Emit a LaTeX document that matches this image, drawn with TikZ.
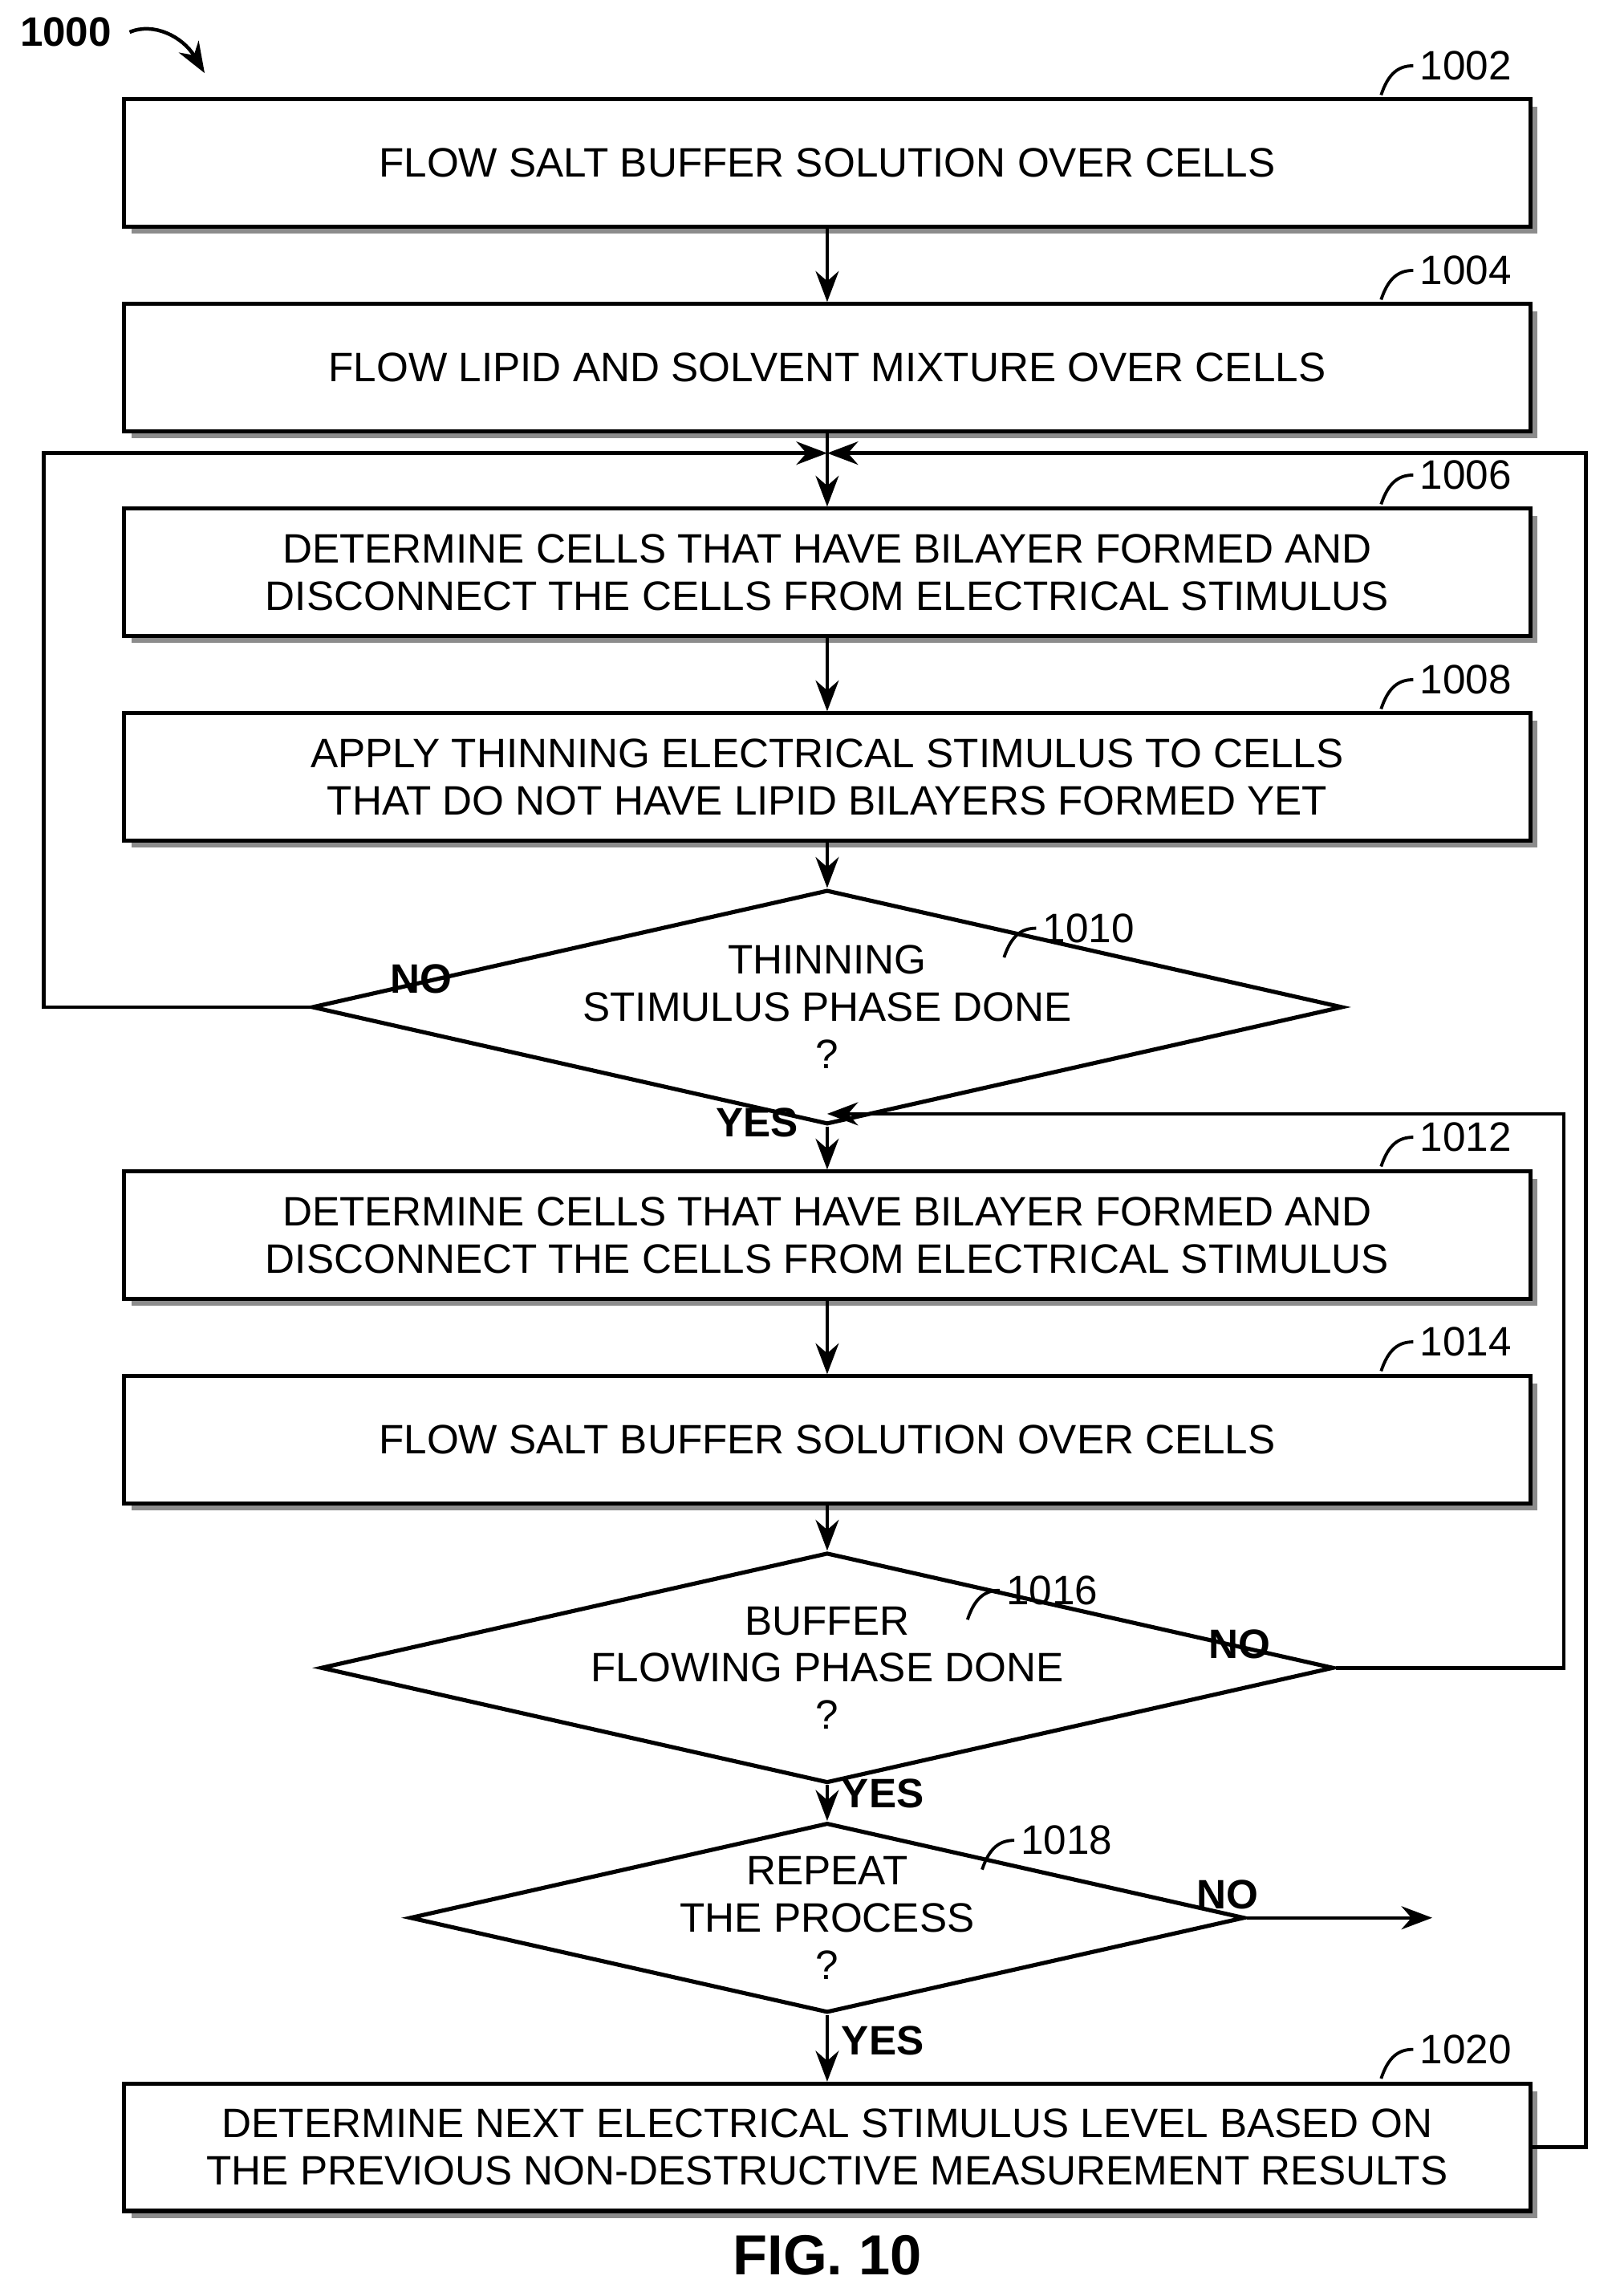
\documentclass[tikz,border=0pt]{standalone}
\usepackage{fontspec}
\setmainfont{Liberation Sans}
\usetikzlibrary{shapes.geometric,arrows.meta,positioning}
\tikzset{
	stage/.style = {draw, line width=0.8pt, fill=white, minimum width=9.62cm, minimum height=0.87cm, align=center, font=\fontsize{8}{9.2}\selectfont,
		preaction={fill=black!45, transform canvas={xshift=0.05cm, yshift=-0.05cm}}},
	test/.style = {draw, diamond, aspect=4.4, line width=0.8pt, fill=white, minimum width=5.12cm, minimum height=1.16cm, inner sep=0pt, align=center, font=\fontsize{8}{9.2}\selectfont},
	flow/.style = {-{Stealth[length=6pt]}, line width=0.7pt},
	ref/.style = {font=\fontsize{8}{9.2}\selectfont},
	lbl/.style = {font=\bfseries\fontsize{8}{9.2}\selectfont}
}
\newcommand{\refnum}[3]{\draw[line width=0.6pt] (#1) .. controls +(0.05,0.15) and +(-0.1,0) .. ++(0.22,0.2) node[ref, anchor=west, inner sep=1pt] {#3};}
\begin{document}
\begin{tikzpicture}[x=1cm, y=1cm]
	\useasboundingbox (0,0) rectangle (11.11,-15.68);

	\node[stage] (s1002) at (5.66,-1.115) {FLOW SALT BUFFER SOLUTION OVER CELLS};
	\node[stage] (s1004) at (5.66,-2.515) {FLOW LIPID AND SOLVENT MIXTURE OVER CELLS};
	\node[stage] (s1006) at (5.66,-3.915) {DETERMINE CELLS THAT HAVE BILAYER FORMED AND\\DISCONNECT THE CELLS FROM ELECTRICAL STIMULUS};
	\node[stage] (s1008) at (5.66,-5.315) {APPLY THINNING ELECTRICAL STIMULUS TO CELLS\\THAT DO NOT HAVE LIPID BILAYERS FORMED YET};
	\node[test] (d1010) at (5.66,-6.89) {THINNING\\STIMULUS PHASE DONE\\?};
	\node[stage] (s1012) at (5.66,-8.45) {DETERMINE CELLS THAT HAVE BILAYER FORMED AND\\DISCONNECT THE CELLS FROM ELECTRICAL STIMULUS};
	\node[stage] (s1014) at (5.66,-9.85) {FLOW SALT BUFFER SOLUTION OVER CELLS};
	\node[test] (d1016) at (5.66,-11.41) {BUFFER\\FLOWING PHASE DONE\\?};
	\node[test] (d1018) at (5.66,-13.12) {REPEAT\\THE PROCESS\\?};
	\node[stage] (s1020) at (5.66,-14.69) {DETERMINE NEXT ELECTRICAL STIMULUS LEVEL BASED ON\\THE PREVIOUS NON-DESTRUCTIVE MEASUREMENT RESULTS};
	\node[font=\bfseries\fontsize{11}{12}\selectfont] (fig) at (5.66,-15.43) {FIG. 10};

	% reference numbers
	\refnum{9.45,-0.65}{s1002}{1002}
	\refnum{9.45,-2.05}{s1004}{1004}
	\refnum{9.45,-3.45}{s1006}{1006}
	\refnum{9.45,-4.85}{s1008}{1008}
	\refnum{6.87,-6.55}{d1010}{1010}
	\refnum{9.45,-7.98}{s1012}{1012}
	\refnum{9.45,-9.38}{s1014}{1014}
	\refnum{6.62,-11.08}{d1016}{1016}
	\refnum{6.72,-12.79}{d1018}{1018}
	\refnum{9.45,-14.22}{s1020}{1020}
	\node[lbl] (n1000) at (0.45,-0.22) {1000};
	\draw[-{Stealth[length=6pt]}, line width=0.7pt] (n1000.east) .. controls (1.05,-0.15) and (1.25,-0.25) .. (1.4,-0.5);

	% main flow
	\coordinate (m1) at (5.66,-3.1);
	\coordinate (m2) at (5.66,-7.62);
	\draw[flow] (s1002) -- (s1004);
	\draw[flow] (s1004) -- (s1006);
	\draw[flow] (s1006) -- (s1008);
	\draw[flow] (s1008) -- (d1010);
	\draw[flow] (d1010) -- (s1012);
	\draw[flow] (s1012) -- (s1014);
	\draw[flow] (s1014) -- (d1016);
	\draw[flow] (d1016) -- (d1018);
	\draw[flow] (d1018) -- (s1020);

	% loops
	\draw[flow] (d1010.west) -- (0.3,-6.89) |- (m1);
	\draw[flow] (s1020.east) -- (10.85,-14.69) |- (m1);
	\draw[flow] (d1016.east) -- (10.7,-11.41) |- (m2);
	\coordinate (out) at (9.8,-13.12);
	\draw[flow] (d1018.east) -- (out);

	% branch labels
	\node[lbl] (no1) at (2.88,-6.7) {NO};
	\node[lbl] (yes1) at (5.18,-7.68) {YES};
	\node[lbl] (no2) at (8.48,-11.25) {NO};
	\node[lbl] (yes2) at (6.04,-12.27) {YES};
	\node[lbl] (no3) at (8.4,-12.96) {NO};
	\node[lbl] (yes3) at (6.04,-13.96) {YES};
\end{tikzpicture}
\end{document}
